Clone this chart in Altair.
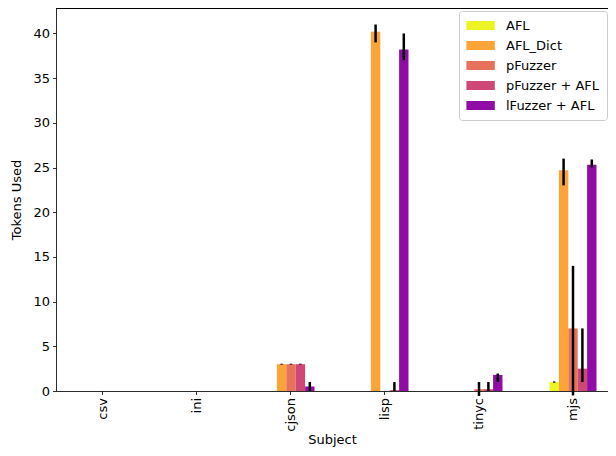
import altair as alt
import pandas as pd

subjects = ["csv", "ini", "cjson", "lisp", "tinyc", "mjs"]
fuzzers = ["AFL", "AFL_Dict", "pFuzzer", "pFuzzer + AFL", "lFuzzer + AFL"]
colors = ["#ecf424", "#fca437", "#e7725b", "#cd4877", "#8f0da4"]

mean_afl = [0, 0, 0, 0, 0, 1.0]
mean_afl_dict = [0, 0, 3.0, 40.2, 0, 24.7]
mean_pfuzzer = [0, 0, 3.0, 0, 0.2, 7.0]
mean_pfuzzer_afl = [0, 0, 3.0, 0.1, 0.2, 2.5]
mean_lfuzzer_afl = [0, 0, 0.5, 38.2, 1.8, 25.3]

lo_afl = [0, 0, 0, 0, 0, 0.93]
lo_afl_dict = [0, 0, 2.95, 39.0, 0, 23.0]
lo_pfuzzer = [0, 0, 2.95, 0, -0.55, -0.5]
lo_pfuzzer_afl = [0, 0, 2.95, 0, 0, 1.0]
lo_lfuzzer_afl = [0, 0, 0, 37.0, 1.0, 25.0]

hi_afl = [0, 0, 0, 0, 0, 1.07]
hi_afl_dict = [0, 0, 3.05, 41.0, 0, 26.0]
hi_pfuzzer = [0, 0, 3.05, 0, 1.0, 14.0]
hi_pfuzzer_afl = [0, 0, 3.05, 1.0, 1.0, 7.0]
hi_lfuzzer_afl = [0, 0, 1.0, 40.0, 1.95, 25.9]

means = [mean_afl, mean_afl_dict, mean_pfuzzer, mean_pfuzzer_afl, mean_lfuzzer_afl]
los = [lo_afl, lo_afl_dict, lo_pfuzzer, lo_pfuzzer_afl, lo_lfuzzer_afl]
his = [hi_afl, hi_afl_dict, hi_pfuzzer, hi_pfuzzer_afl, hi_lfuzzer_afl]

rows = []
for fi, f in enumerate(fuzzers):
    for si, s in enumerate(subjects):
        rows.append({"Subject": s, "Fuzzer": f, "mean": means[fi][si],
                     "lo": los[fi][si], "hi": his[fi][si]})
df = pd.DataFrame(rows)

FONT = "DejaVu Sans"

x = alt.X("Subject:N", sort=subjects, title="Subject",
          scale=alt.Scale(paddingInner=0.5, paddingOuter=0.18617, align=0.6714),
          axis=alt.Axis(labelAngle=-90, labelFontSize=13, titleFontSize=13,
                        titleFontWeight="normal", labelPadding=3, tickSize=3.5,
                        tickColor="black", domainColor="black", tickWidth=0.8,
                        domainWidth=0.8, labelColor="black", titleColor="black",
                        titleBaseline="alphabetic", titleY=52,
                        labelFont=FONT, titleFont=FONT))
xoff = alt.XOffset("Fuzzer:N", sort=fuzzers,
                   scale=alt.Scale(paddingInner=0, paddingOuter=0))
yscale = alt.Scale(domain=[0, 42.85], nice=False)

bars = alt.Chart(df).mark_bar(opacity=1).encode(
    x=x,
    xOffset=xoff,
    y=alt.Y("mean:Q", scale=yscale, title="Tokens Used",
            axis=alt.Axis(values=[0, 5, 10, 15, 20, 25, 30, 35, 40], grid=False,
                          labelFontSize=13, titleFontSize=13, titleFontWeight="normal",
                          tickSize=3.5, tickColor="black", domainColor="black",
                          tickWidth=0.8, domainWidth=0.8, labelColor="black",
                          titleColor="black", labelPadding=3, titlePadding=9,
                          labelFont=FONT, titleFont=FONT)),
    color=alt.Color("Fuzzer:N", sort=fuzzers,
                    scale=alt.Scale(domain=fuzzers, range=colors),
                    legend=alt.Legend(title=None, orient="none", legendX=403, legendY=3,
                                      symbolType="M-1,-0.634H3V0.634H-1Z",
                                      symbolSize=202, symbolStrokeWidth=0,
                                      symbolOpacity=1,
                                      labelFontSize=13, labelFont=FONT,
                                      labelColor="black", labelOffset=25,
                                      rowPadding=5, padding=7,
                                      fillColor="white", strokeColor="#cccccc",
                                      cornerRadius=3)),
)

errs = alt.Chart(df).mark_rule(color="black", strokeWidth=2.5).encode(
    x=x,
    xOffset=xoff,
    y=alt.Y("lo:Q", scale=yscale),
    y2="hi:Q",
)

top_spine = alt.Chart(df).mark_rule(color="black", strokeWidth=0.8).encode(
    x=alt.value(0), x2=alt.value(552), y=alt.value(0)
)

chart = alt.layer(bars, errs, top_spine).properties(
    width=552, height=383,
    autosize=alt.AutoSizeParams(type="none"),
    padding={"left": 48, "top": 0, "right": 0, "bottom": 56},
).configure_view(stroke=None).configure(font=FONT)

chart.save("out.html", embed_options={"renderer": "svg", "actions": False})
